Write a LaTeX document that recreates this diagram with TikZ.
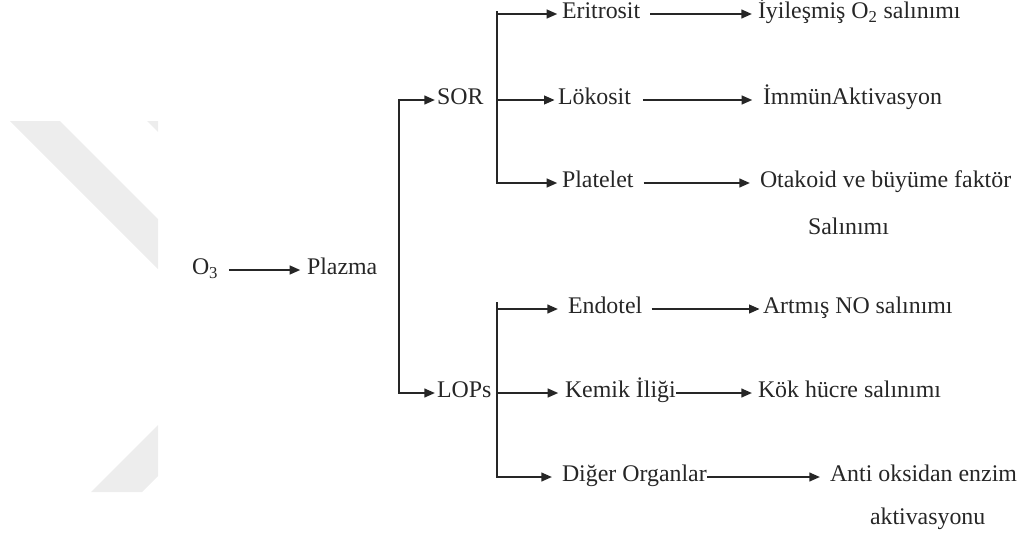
\documentclass[tikz,border=0pt]{standalone}
\usepackage{fontspec}
\setmainfont{Liberation Serif}
\usetikzlibrary{arrows.meta}
\begin{document}
\begin{tikzpicture}[x=0.75pt,y=-0.75pt,
  lbl/.style={inner sep=0pt, outer sep=0pt, anchor=west, text height=0.75em, text depth=0.05em, font=\fontsize{17.9}{21}\selectfont, text=black!85},
  conn/.style={line width=1.6pt, draw=black!85},
  arr/.style={conn, -{Triangle[length=8pt,width=6.5pt]}},
  wm/.style={fill=black!7, draw=none}]
\useasboundingbox (0,0) rectangle (1023,539);
% watermark
\fill[wm] (10,121) -- (60,121) -- (158,219) -- (158,269) -- cycle;
\fill[wm] (147,121) -- (158,121) -- (158,132) -- cycle;
\fill[wm] (158,425) -- (91,492) -- (142,492) -- (158,476) -- cycle;
% nodes
\node[lbl] (o3) at (192,270) {O\textsubscript{3}};
\node[lbl] (plazma) at (307,270) {Plazma};
\node[lbl] (sor) at (437,100) {SOR};
\node[lbl] (lops) at (437,393) {LOPs};
\node[lbl] (eri) at (562,14) {Eritrosit};
\node[lbl] (lok) at (558,100) {Lökosit};
\node[lbl] (plt) at (562,183) {Platelet};
\node[lbl] (endo) at (568,309) {Endotel};
\node[lbl] (kemik) at (565,393) {Kemik İliği};
\node[lbl] (diger) at (562,477) {Diğer Organlar};
\node[lbl] (r1) at (758,14) {İyileşmiş O\textsubscript{2} salınımı};
\node[lbl] (r2) at (763,100) {İmmünAktivasyon};
\node[lbl] (r3) at (760,183) {Otakoid ve büyüme faktör};
\node[lbl] (r3b) at (808,230) {Salınımı};
\node[lbl] (r4) at (763,309) {Artmış NO salınımı};
\node[lbl] (r5) at (758,393) {Kök hücre salınımı};
\node[lbl] (r6) at (830,477) {Anti oksidan enzim};
\node[lbl] (r6b) at (870,520) {aktivasyonu};
% bar coordinates
\coordinate (pbar) at (399,272);
\coordinate (stop) at (497,11);
\coordinate (ltop) at (497,302);
% connectors
\draw[arr, shorten <=8pt, shorten >=5pt] (o3) -- (plazma);
\draw[arr, shorten >=1.5pt] (lops.west -| pbar) |- (sor.west);
\draw[arr, shorten >=1.5pt] (sor.west -| pbar) |- (lops.west);
\draw[arr, shorten >=3.5pt] (stop) |- (plt.west);
\draw[arr, shorten >=3.5pt] (eri.west -| stop) -- (eri.west);
\draw[arr, shorten >=2.5pt] (lok.west -| stop) -- (lok.west);
\draw[arr, shorten >=7.5pt] (ltop) |- (diger.west);
\draw[arr, shorten >=7.5pt] (endo.west -| ltop) -- (endo.west);
\draw[arr, shorten >=5pt] (kemik.west -| ltop) -- (kemik.west);
\draw[arr, shorten <=7.5pt, shorten >=4.5pt] (eri) -- (r1);
\draw[arr, shorten <=9pt, shorten >=8pt] (lok) -- (r2);
\draw[arr, shorten <=7.5pt, shorten >=7.5pt] (plt) -- (r3);
\draw[arr, shorten <=7pt, shorten >=2.5pt] (endo) -- (r4);
\draw[arr, shorten <=0.5pt, shorten >=4.5pt] (kemik) -- (r5);
\draw[arr, shorten <=0.5pt, shorten >=7.5pt] (diger) -- (r6);
\end{tikzpicture}
\end{document}
